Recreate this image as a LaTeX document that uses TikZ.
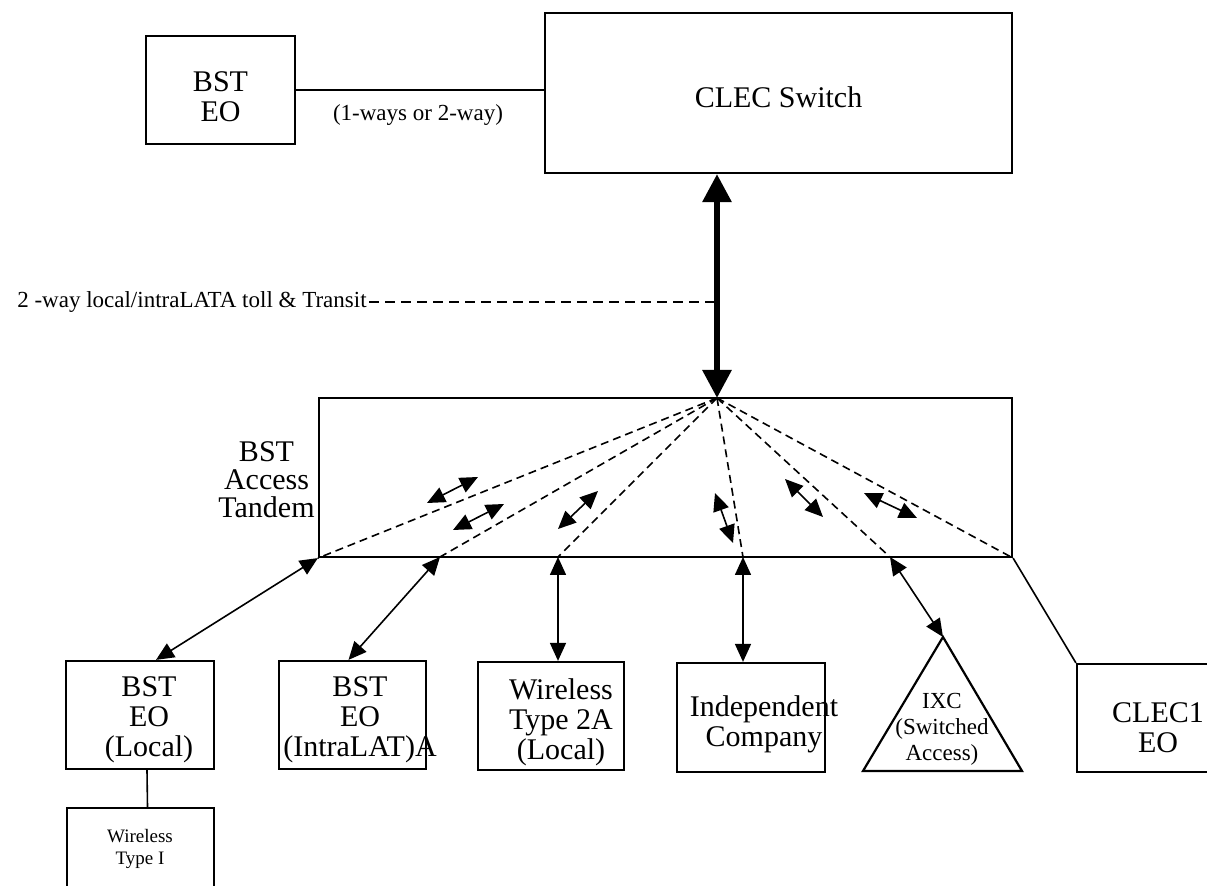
\documentclass[tikz,border=0pt]{standalone}
\usepackage{fontspec}
\setmainfont{Liberation Serif}
\usetikzlibrary{arrows.meta}

\begin{document}
\begin{tikzpicture}[x=0.5pt,y=-0.5pt,
        box/.style={draw,line width=1.1pt,inner sep=0pt},
        big/.style={font=\fontsize{15}{15}\selectfont,align=center,inner sep=0pt},
        small/.style={font=\fontsize{11.5}{13}\selectfont,align=center,inner sep=1pt},
        link/.style={line width=0.8pt,{Triangle[length=9pt,width=8pt]}-{Triangle[length=9pt,width=8pt]}},
        fan/.style={line width=0.8pt,dash pattern=on 4pt off 2.5pt}]
        \path[use as bounding box] (0,0) rectangle (1207,886);
        \clip (0,0) rectangle (1207,886);

        % Draw top switches
        \node[box,minimum width=74.5pt,minimum height=54pt] (bsteo) at (220.5,90) {};
        \node[big] (bsteo-t) at ([yshift=-3.5pt]bsteo.center) {BST\\EO};
        \node[box,minimum width=233.5pt,minimum height=80pt] (clec) at (778.5,93) {};
        \node[big] (clec-t) at ([yshift=-2pt]clec.center) {CLEC Switch};
        \draw[line width=0.8pt] (bsteo.east) -- (bsteo.east -| clec.west);
        \node[small] (oneway) at (418,115) {(1-ways or 2-way)};

        % Draw tandem
        \node[box,minimum width=346.5pt,minimum height=79.5pt] (tandem) at (665.5,477.5) {};
        \node[big,font=\fontsize{15}{14}\selectfont,anchor=east] (tandem-t) at (315,480) {BST\\Access\\Tandem};
        \coordinate (apex) at (717,398);
        \draw[line width=3pt,{Triangle[length=14pt,width=14pt]}-{Triangle[length=14pt,width=14pt]}] (apex |- clec.south) -- (apex);
        \node[small,anchor=east] (twoway) at (369,302) {2 -way local/intraLATA toll \& Transit};
        \draw[line width=0.8pt,dash pattern=on 5pt off 3pt] (twoway.east) -- (twoway.east -| apex);

        % Draw fan inside tandem
        \coordinate (f2) at (440,557);
        \coordinate (f3) at (558,557);
        \coordinate (f4) at (743,557);
        \coordinate (f5) at (890,557);
        \draw[fan] (apex) -- (tandem.south west);
        \draw[fan] (apex) -- (f2);
        \draw[fan] (apex) -- (f3);
        \draw[fan] (apex) -- (f4);
        \draw[fan] (apex) -- (f5);
        \draw[fan] (apex) -- (tandem.south east);

        % Draw small arrows
        \draw[link] (427,503) -- (478,477);
        \draw[link] (453,530) -- (504,504);
        \draw[link] (558,529) -- (598,491);
        \draw[link] (715,493) -- (733,543);
        \draw[link] (785,479) -- (823,517);
        \draw[link] (864,493) -- (917,518);

        % Draw end offices
        \node[box,minimum width=74pt,minimum height=54pt] (local) at (140,715) {};
        \node[big] (local-t) at (149,720) {BST\\EO\\(Local)};
        \node[box,minimum width=73.5pt,minimum height=54pt] (intra) at (352.5,715) {};
        \node[big] (intra-t) at (360,720) {BST\\EO\\(IntraLAT)A};
        \node[box,minimum width=73pt,minimum height=54pt] (w2a) at (551,716) {};
        \node[big] (w2a-t) at (561,722) {Wireless\\Type 2A\\(Local)};
        \node[box,minimum width=74pt,minimum height=54.5pt] (indep) at (751,717.5) {};
        \node[big] (indep-t) at (764,724) {Independent\\Company};
        \coordinate (ixc-top) at (943,637);
        \coordinate (ixc-l) at (863,771);
        \coordinate (ixc-r) at (1022,771);
        \draw[line width=1.1pt] (ixc-top) -- (ixc-r) -- (ixc-l) -- cycle;
        \node[small,inner sep=0pt] (ixc-t) at (942,729) {IXC\\(Switched\\Access)};
        \node[box,minimum width=81.5pt,minimum height=54pt] (clec1) at (1158.5,718) {};
        \node[big] (clec1-t) at (1158,728) {CLEC1\\EO};
        \node[box,minimum width=73.5pt,minimum height=51pt] (wless1) at (140.5,859) {};
        \node[font=\fontsize{9.5}{11}\selectfont,align=center,inner sep=0pt] (wless1-t) at (140,849) {Wireless\\Type I};

        % Draw links to tandem
        \draw[link] (tandem.south west) -- ([xshift=8pt]local.north);
        \draw[link] (f2) -- ([xshift=-2pt]intra.north);
        \draw[link] (f3) -- (f3 |- w2a.north);
        \draw[link] (f4) -- (f4 |- indep.north);
        \draw[link] (f5) -- (ixc-top);
        \draw[line width=0.8pt] (tandem.south east) -- (clec1.north west);
        \draw[line width=0.8pt] ([xshift=3.5pt]local.south) -- ([xshift=3.5pt]wless1.north);

    \end{tikzpicture}
\end{document}
